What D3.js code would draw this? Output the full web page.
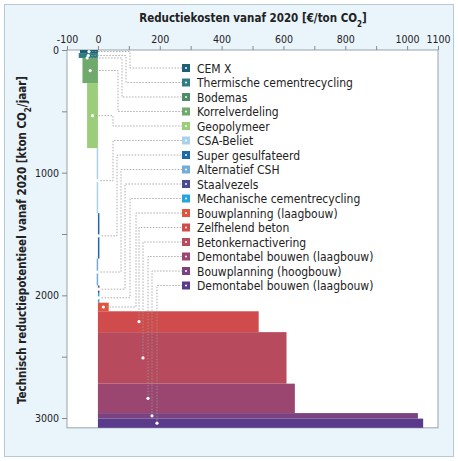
<!DOCTYPE html>
<html><head><meta charset="utf-8">
<script src="https://cdn.jsdelivr.net/npm/d3@7"></script>
<style>body{margin:0;background:#fff;font-family:"DejaVu Sans",sans-serif}</style>
</head><body>
<svg id="chart" width="458" height="461"></svg>
<script>
// measures, in stacking order
var names = ['CEM X', 'Thermische cementrecycling', 'Bodemas', 'Korrelverdeling', 'Geopolymeer',
  'CSA-Beliet', 'Super gesulfateerd', 'Alternatief CSH', 'Staalvezels', 'Mechanische cementrecycling',
  'Bouwplanning (laagbouw)', 'Zelfhelend beton', 'Betonkernactivering', 'Demontabel bouwen (laagbouw)',
  'Bouwplanning (hoogbouw)', 'Demontabel bouwen (laagbouw)'];
var potential = [25, 40, 0, 205, 530, 530, 370, 220, 60, 80, 70, 170, 420, 240, 45, 75];
var cost = [-58, -62, -70, -50, -35, -4, 4, -4, 5, 4, 35, 520, 610, 637, 1035, 1052];
var colors = ['#1f5f75', '#2f7d80', '#4e8c6a', '#6faa6c', '#9ccd7a', '#a9d2ea', '#1f68a8', '#74acd8',
  '#4a4a90', '#27a4dc', '#e0533e', '#d04c4c', '#b84a5e', '#9a4670', '#7a4280', '#5a3a8a'];
var legendCol = [130, 126, 122, 118, 113, 113, 117, 121, 125, 130, 136, 139, 143, 148, 152, 157];
var xTicks = [-100, 0, 200, 400, 600, 800, 1000, 1100];
var yTicks = [0, 1000, 2000, 3000];

var svg = d3.select('#chart');
svg.append('rect').attr('x', 4.5).attr('y', 4.5).attr('width', 449).attr('height', 452)
  .attr('fill', '#e9f4fb').attr('stroke', '#b9c9d3');

var x = d3.scaleLinear().domain([-100, 1100]).range([67, 438]);
var y = d3.scaleLinear().domain([0, 3000]).range([50, 418]);
var yMax = 3080;
svg.append('rect').attr('x', x(-100)).attr('y', y(0)).attr('width', x(1100) - x(-100))
  .attr('height', y(yMax) - y(0)).attr('fill', '#fff').attr('stroke', '#9aa3a8');

var cum = 0;
var bars = names.map(function(n, i) {
  var b = {name: n, y0: cum, y1: cum + potential[i], c: cost[i], color: colors[i], col: legendCol[i], i: i};
  cum += potential[i];
  return b;
});

var g = svg.append('g');
g.selectAll('rect.bar').data(bars).enter().append('rect')
  .attr('x', function(d) { return x(Math.min(0, d.c)); })
  .attr('y', function(d) { return y(d.y0); })
  .attr('width', function(d) { return Math.max(1.5, Math.abs(x(d.c) - x(0))); })
  .attr('height', function(d) { return y(d.y1) - y(d.y0); })
  .attr('fill', function(d) { return d.color; });

// legend
var legY = function(i) { return 68 + i * 14.5; };
var lx = 186;
bars.forEach(function(d) {
  var cy = (y(d.y0) + y(d.y1)) / 2;
  var cx = Math.min((x(Math.min(0, d.c)) + x(Math.max(0, d.c))) / 2, d.col);
  var ly = legY(d.i);
  g.append('path').attr('d', 'M' + cx + ',' + cy + 'H' + d.col + 'V' + ly + 'H' + (lx - 4))
    .attr('fill', 'none').attr('stroke', '#999').attr('stroke-width', 0.8).attr('stroke-dasharray', '1.5,1.5');
  g.append('circle').attr('cx', cx).attr('cy', cy).attr('r', 1.6).attr('fill', '#fff');
  g.append('rect').attr('x', lx - 4).attr('y', ly - 4).attr('width', 8).attr('height', 8).attr('fill', d.color);
  g.append('circle').attr('cx', lx).attr('cy', ly).attr('r', 1).attr('fill', '#fff');
  g.append('text').attr('x', lx + 11).attr('y', ly + 4.5).attr('font-size', 12).attr('fill', '#222')
    .attr('font-family', 'DejaVu Sans Condensed, DejaVu Sans').text(d.name);
});

// axes
var xAxis = svg.append('g').attr('transform', 'translate(0,' + y(0) + ')')
  .call(d3.axisTop(x).tickValues(d3.range(-100, 1101, 100)).tickSize(4)
    .tickFormat(function(v) { return xTicks.indexOf(v) >= 0 ? v : ''; }));
var yAxis = svg.append('g').attr('transform', 'translate(' + x(-100) + ',0)')
  .call(d3.axisLeft(y).tickValues(d3.range(0, 3001, 500)).tickSize(5)
    .tickFormat(function(v) { return yTicks.indexOf(v) >= 0 ? v : ''; }));
[xAxis, yAxis].forEach(function(a) {
  a.select('.domain').remove();
  a.selectAll('line').attr('stroke', '#888');
  a.selectAll('text').attr('font-size', 10.5).attr('fill', '#222').attr('font-family', 'DejaVu Sans Condensed, DejaVu Sans');
});

var t1 = svg.append('text').attr('x', 253).attr('y', 22).attr('text-anchor', 'middle')
  .attr('font-size', 11.5).attr('font-weight', 'bold').attr('fill', '#222').attr('font-family', 'DejaVu Sans Condensed, DejaVu Sans');
t1.append('tspan').text('Reductiekosten vanaf 2020 [€/ton CO');
t1.append('tspan').attr('baseline-shift', 'sub').attr('font-size', 8).text('2');
t1.append('tspan').text(']');

var t2 = svg.append('text').attr('transform', 'translate(26,' + 240 + ') rotate(-90)').attr('text-anchor', 'middle')
  .attr('font-size', 11.5).attr('font-weight', 'bold').attr('fill', '#222').attr('font-family', 'DejaVu Sans Condensed, DejaVu Sans');
t2.append('tspan').text('Technisch reductiepotentieel vanaf 2020 [kton CO');
t2.append('tspan').attr('baseline-shift', 'sub').attr('font-size', 8).text('2');
t2.append('tspan').text('/jaar]');
</script>
</body></html>
